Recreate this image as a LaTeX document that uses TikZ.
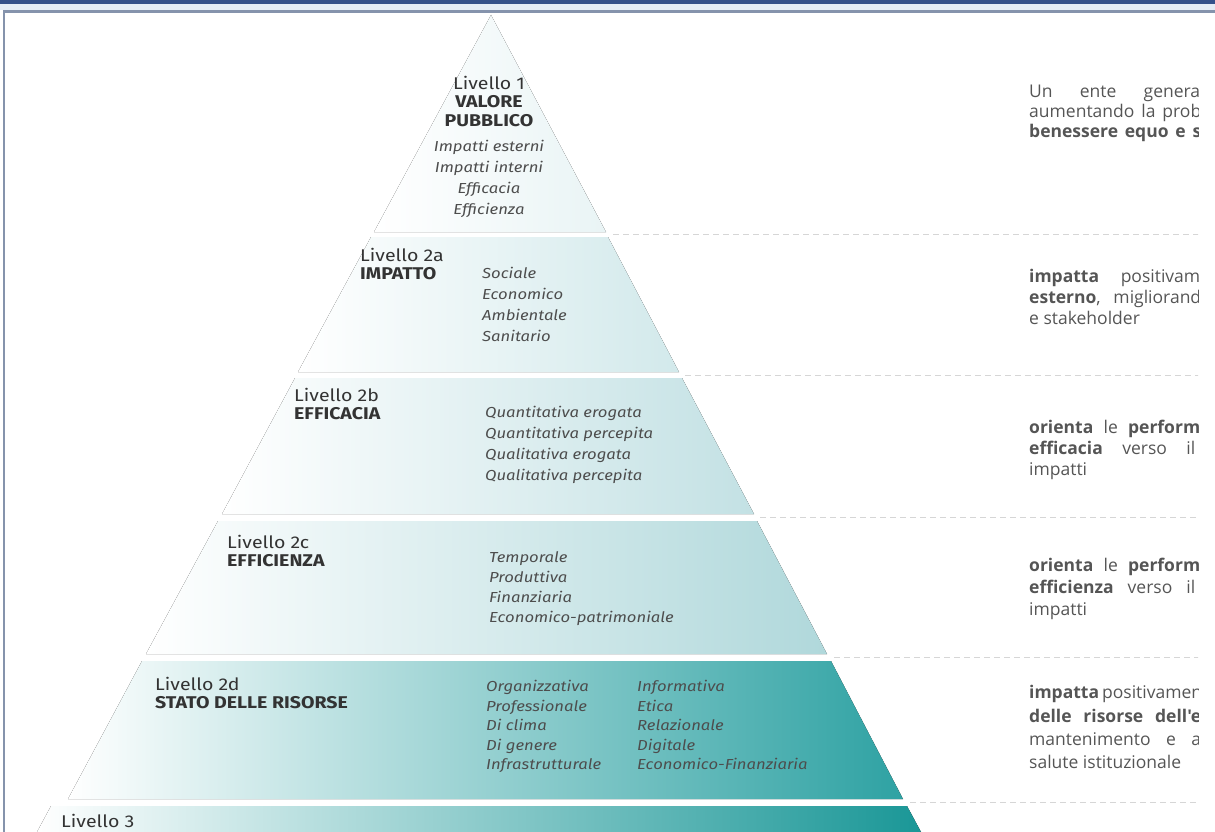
\documentclass[tikz,border=0pt]{standalone}
\usepackage{fontspec}
\setmainfont{Fira Sans}[FakeStretch=1.15]
\newfontfamily\descfont{Open Sans}
\usepackage{tikz}
\usetikzlibrary{calc}
\usetikzlibrary{positioning}
\definecolor{framebar}{HTML}{34508A}
\definecolor{framelight}{HTML}{E4ECF6}
\definecolor{frameline}{HTML}{8593AC}
\definecolor{tone1}{HTML}{E9F4F5}
\definecolor{tone2}{HTML}{D2E9EB}
\definecolor{tone3}{HTML}{C3E1E4}
\definecolor{tone4}{HTML}{B0D8DB}
\definecolor{tone5}{HTML}{2EA2A3}
\definecolor{tone6}{HTML}{1A9797}
\definecolor{labeltext}{HTML}{333333}
\definecolor{itemtext}{HTML}{4D4D4D}
\definecolor{desctext}{HTML}{555555}
\definecolor{septone}{HTML}{D6D6D6}
\tikzset{band/.style={left color=white, right color=#1}}
\tikzset{lvl/.style={anchor=north west, align=left, inner sep=0pt, text=labeltext, font=\fontsize{17}{18.5}\selectfont}}
\tikzset{items/.style={anchor=north west, align=left, inner sep=0pt, text=itemtext, font=\itshape\fontsize{14.5}{#1}\selectfont}, items/.default=21}
\tikzset{desc/.style={anchor=base west, inner sep=0pt, text=desctext, font=\descfont\fontsize{17.5}{21}\selectfont}}
\tikzset{sep/.style={draw=septone, line width=1pt, dash pattern=on 6pt off 4pt}}

\begin{document}
\begin{tikzpicture}[x=1pt,y=-1pt]
		\useasboundingbox (0,0) rectangle (1215,832);
		\fill[framebar] (0,0) rectangle (1215,4);
		\fill[framelight] (0,4) rectangle (1215,10);
		\draw[frameline, line width=2.5pt] (4,832) -- (4,11.5) -- (1215,11.5);

		\fill[band=tone1] (491,15) -- (606,232) -- (374,232) -- cycle;
		\fill[band=tone2] (371,237) -- (608,237) -- (679,372) -- (298,372) -- cycle;
		\fill[band=tone3] (295,378) -- (682,378) -- (754,514) -- (222,514) -- cycle;
		\fill[band=tone4] (218,521) -- (757,521) -- (827,654) -- (146,654) -- cycle;
		\fill[band=tone5] (142,661) -- (831,661) -- (903,799) -- (68,799) -- cycle;
		\fill[band=tone6] (51,806) -- (907,806) -- (921,832) -- (37,832) -- cycle;

		\begin{scope}
		\clip (0,13) rectangle (1198,832);
		\coordinate (S1) at (613,234.5);
		\coordinate (E1) at (1215,234.5);
		\coordinate (S2) at (685,375.5);
		\coordinate (E2) at (1215,375.5);
		\coordinate (S3) at (760,517.5);
		\coordinate (E3) at (1215,517.5);
		\coordinate (S4) at (834,657.5);
		\coordinate (E4) at (1215,657.5);
		\coordinate (S5) at (910,802.5);
		\coordinate (E5) at (1215,802.5);
		\path [sep] (S1) edge (E1);
		\path [sep] (S2) edge (E2);
		\path [sep] (S3) edge (E3);
		\path [sep] (S4) edge (E4);
		\path [sep] (S5) edge (E5);

		\node[desc] (D1a) at (1029,98) {\makebox[171pt][s]{Un ente genera}};
		\node[desc] (D1b) at (1029,118) {\makebox[172pt][s]{aumentando la prob}};
		\node[desc] (D1c) at (1029,138) {\makebox[172pt][s]{\textbf{benessere equo e s}}};

		\node[desc] (D2a) at (1029,282) {\makebox[171pt][s]{\textbf{impatta} positivam}};
		\node[desc] (D2b) at (1029,303) {\makebox[172pt][s]{\textbf{esterno}, migliorand}};
		\node[desc] (D2c) at (1029,324) {e stakeholder};

		\node[desc] (D3a) at (1029,433) {\makebox[171pt][s]{\textbf{orienta} le \textbf{perform}}};
		\node[desc] (D3b) at (1029,454) {\makebox[166pt][s]{\textbf{efficacia} verso il}};
		\node[desc] (D3c) at (1029,475) {impatti};

		\node[desc] (D4a) at (1029,571) {\makebox[171pt][s]{\textbf{orienta} le \textbf{perform}}};
		\node[desc] (D4b) at (1029,593) {\makebox[166pt][s]{\textbf{efficienza} verso il}};
		\node[desc] (D4c) at (1029,615) {impatti};

		\node[desc] (D5a) at (1029,698) {\makebox[172pt][s]{\textbf{impatta} positivamen}};
		\node[desc] (D5b) at (1029,722) {\makebox[172pt][s]{\textbf{delle risorse dell'e}}};
		\node[desc] (D5c) at (1029,745) {\makebox[172pt][s]{mantenimento e a}};
		\node[desc] (D5d) at (1029,768) {salute istituzionale};
		\end{scope}

		\node[lvl, anchor=north, align=center] (V1) at (489,76) {Livello 1\\\textbf{VALORE}\\\textbf{PUBBLICO}};
		\node[items, anchor=north, align=center] (V1i) at (489,140) {Impatti esterni\\Impatti interni\\Efficacia\\Efficienza};

		\node[lvl] (V2a) at (360,248) {Livello 2a\\\textbf{IMPATTO}};
		\node[items] (V2ai) at (482,267) {Sociale\\Economico\\Ambientale\\Sanitario};

		\node[lvl] (V2b) at (294,388) {Livello 2b\\\textbf{EFFICACIA}};
		\node[items] (V2bi) at (485,406) {Quantitativa erogata\\Quantitativa percepita\\Qualitativa erogata\\Qualitativa percepita};

		\node[lvl] (V2c) at (227,535) {Livello 2c\\\textbf{EFFICIENZA}};
		\node[items=20] (V2ci) at (489,551) {Temporale\\Produttiva\\Finanziaria\\Economico-patrimoniale};

		\node[lvl] (V2d) at (155,677) {Livello 2d\\\textbf{STATO DELLE RISORSE}};
		\node[items=19.5] (V2di) at (486,680) {Organizzativa\\Professionale\\Di clima\\Di genere\\Infrastrutturale};
		\node[items=19.5] (V2dj) at (637,680) {Informativa\\Etica\\Relazionale\\Digitale\\Economico-Finanziaria};

		\node[lvl] (V3) at (61,814) {Livello 3};
	\end{tikzpicture}
\end{document}
